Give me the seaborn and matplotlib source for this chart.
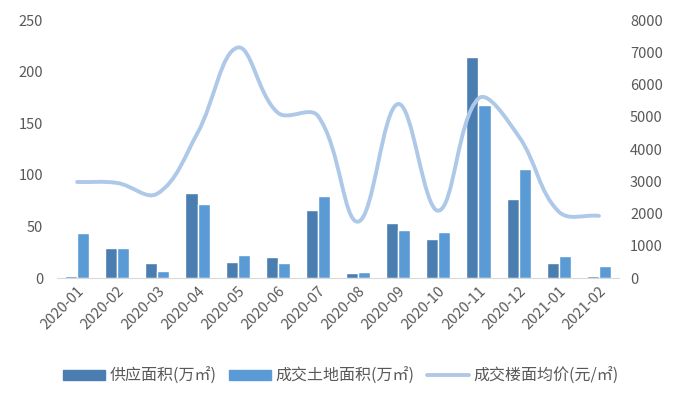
import numpy as np
import pandas as pd
import seaborn as sns
import matplotlib.pyplot as plt
from matplotlib.path import Path
from matplotlib.patches import PathPatch, Patch
from matplotlib.lines import Line2D

sns.set_style("white")
plt.rcParams['font.family'] = ['Noto Sans CJK SC', 'DejaVu Sans']

months = ['2020-01', '2020-02', '2020-03', '2020-04', '2020-05', '2020-06', '2020-07',
          '2020-08', '2020-09', '2020-10', '2020-11', '2020-12', '2021-01', '2021-02']
supply = [2, 29, 15, 82, 16, 20, 66, 5, 53, 38, 214, 77, 15, 2]
deal = [44, 29, 7, 72, 22, 15, 80, 6, 47, 45, 168, 106, 21, 12]
price = [2980, 2950, 2620, 4500, 7150, 5130, 5030, 1750, 5400, 2090, 5570, 4400, 2060, 1930]

lab_supply = '供应面积(万㎡)'
lab_deal = '成交土地面积(万㎡)'
lab_price = '成交楼面均价(元/㎡)'
c_supply = '#4A7EB0'
c_deal = '#5B9BD5'
c_price = '#AEC8E8'

df = pd.DataFrame({'month': months * 2,
                   'value': supply + deal,
                   'series': [lab_supply] * len(months) + [lab_deal] * len(months)})

fig = plt.figure(figsize=(6.82, 3.95), dpi=100)
ax = fig.add_axes([0.0836, 0.296, 0.824, 0.653])
sns.barplot(ax=ax, data=df, x='month', y='value', hue='series',
            palette=[c_supply, c_deal], width=0.6, saturation=1, legend=False)
ax.set_xlim(-0.5, len(months) - 0.5)
ax.set_ylim(0, 250)
ax.set_yticks(range(0, 251, 50))
ax.set_xlabel('')
ax.set_ylabel('')
for s in ['top', 'right', 'left']:
    ax.spines[s].set_visible(False)
ax.spines['bottom'].set_color('#D9D9D9')
ax.tick_params(axis='y', length=0, colors='#595959', labelsize=10.5, pad=10)
ax.tick_params(axis='x', length=0, colors='#595959', labelsize=10.5, pad=4)
plt.setp(ax.get_xticklabels(), rotation=45, ha='right', rotation_mode='anchor')

ax2 = ax.twinx()
ax2.set_ylim(0, 8000)
ax2.set_yticks(range(0, 8001, 1000))
for s in ax2.spines.values():
    s.set_visible(False)
ax2.tick_params(axis='y', length=0, colors='#595959', labelsize=10.5, pad=8)

# smoothed line: cubic Bezier segments, handles scaled by neighbour distances (screen units)
x = np.arange(len(months), dtype=float)
y = np.array(price, dtype=float)
sx, sy = 40.1, 258 / 8000
def dist(a, b):
    return np.hypot((a[0] - b[0]) * sx, (a[1] - b[1]) * sy)
pts = list(zip(x, y))
verts = [pts[0]]
codes = [Path.MOVETO]
def handles_at(i):
    p1 = pts[i]
    p0 = pts[i - 1] if i > 0 else p1
    p2 = pts[i + 1] if i + 1 < len(pts) else p1
    d01, d12 = dist(p0, p1), dist(p1, p2)
    tot = d01 + d12
    f = 0.38
    dx, dy = p2[0] - p0[0], p2[1] - p0[1]
    back = (p1[0] - dx * f * d01 / tot, p1[1] - dy * f * d01 / tot)
    fwd = (p1[0] + dx * f * d12 / tot, p1[1] + dy * f * d12 / tot)
    return back, fwd
for i in range(len(pts) - 1):
    c1 = handles_at(i)[1]
    c2 = handles_at(i + 1)[0]
    verts += [c1, c2, pts[i + 1]]
    codes += [Path.CURVE4] * 3
ax2.add_patch(PathPatch(Path(verts, codes), fill=False, edgecolor=c_price,
                        lw=2.8, capstyle='round', joinstyle='round'))

legend_items = [Patch(color=c_supply, label=lab_supply),
                Patch(color=c_deal, label=lab_deal),
                Line2D([], [], color=c_price, lw=2.8, label=lab_price)]
fig.legend(handles=legend_items, loc='center', bbox_to_anchor=(0.5, 0.048), ncol=3,
           frameon=False, fontsize=11.5, handlelength=2.6, handleheight=0.55,
           columnspacing=0.8, handletextpad=0.3, labelcolor='#595959')

fig.savefig('out.png', dpi=100)
